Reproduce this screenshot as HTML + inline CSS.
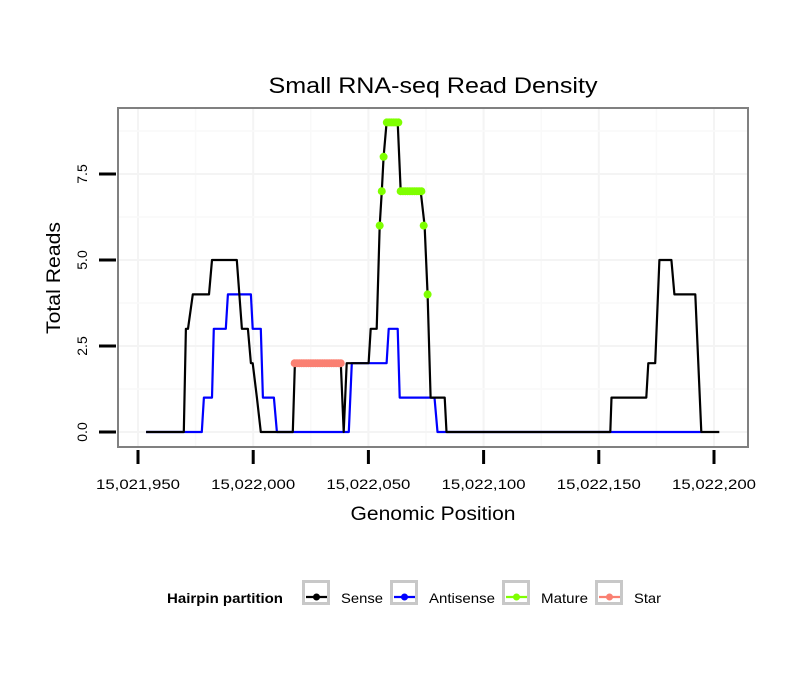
<!DOCTYPE html>
<html><head><meta charset="utf-8"><style>
body{margin:0;background:#fff;}
svg{display:block;font-family:"Liberation Sans",sans-serif;}
</style></head><body>
<svg id="chart" width="810" height="690">
<text x="433" y="93" font-size="22" text-anchor="middle" textLength="329" lengthAdjust="spacingAndGlyphs">Small RNA-seq Read Density</text>
<rect x="118" y="108" width="630" height="339" fill="#fff"/>
<g id="grid"></g>
<g id="series"></g>
<rect x="118" y="108" width="630" height="339" fill="none" stroke="#808080" stroke-width="2"/>
<g id="axes"></g>
<text x="433" y="520" font-size="19" text-anchor="middle" textLength="165" lengthAdjust="spacingAndGlyphs">Genomic Position</text>
<text transform="translate(60,278) rotate(-90)" font-size="19" text-anchor="middle" textLength="112" lengthAdjust="spacingAndGlyphs">Total Reads</text>
<g>
<text x="167" y="603" font-size="14" font-weight="bold" textLength="116" lengthAdjust="spacingAndGlyphs">Hairpin partition</text>
<g id="legend"></g>
</g>
</svg>
<script>
const xTicks=[15021950,15022000,15022050,15022100,15022150,15022200];
const xTickLabels=["15,021,950","15,022,000","15,022,050","15,022,100","15,022,150","15,022,200"];
const yTicks=[0,2.5,5,7.5];
const yTickLabels=["0.0","2.5","5.0","7.5"];
const base=15021950;
const senseOffsets=[3.5,19.9,20.8,21.7,23.8,30.8,32.1,42.9,45.1,47.7,49.0,49.8,51.6,53.3,67.2,68.1,88.0,89.3,90.6,100.1,101.0,103.6,104.9,105.8,106.6,107.9,112.7,114.0,122.7,124.4,125.7,127.0,133.1,133.9,205.0,205.5,220.6,221.5,224.5,226.3,231.5,232.8,241.9,244.5,252.3];
const senseValues=[0,0,3,3,4,4,5,5,3,3,2,2,1,0,0,2,2,0,2,2,3,3,6,7,8,9,9,7,7,6,4,1,1,0,0,1,1,2,2,5,5,4,4,0,0];
const antiOffsets=[3.5,27.7,28.6,32.1,32.9,38.1,39.0,49.0,49.8,53.3,54.2,59.0,60.3,91.5,92.8,107.9,108.8,112.7,113.6,128.7,130.0,244.5];
const antiValues=[0,0,1,1,3,3,4,4,3,3,1,1,0,0,2,2,3,3,1,1,0,0];
const matureOffsets=[104.9,105.8,106.6,108,109,110,111,112,113,114,115,116,117,118,119,120,121,122,123,124,125.7];
const matureValues=[6,7,8,9,9,9,9,9,9,7,7,7,7,7,7,7,7,7,7,6,4];
const starOffsets=[68,69,70,71,72,73,74,75,76,77,78,79,80,81,82,83,84,85,86,87,88];
const starValues=[2,2,2,2,2,2,2,2,2,2,2,2,2,2,2,2,2,2,2,2,2];
const legendLabels=["Sense","Antisense","Mature","Star"];
const colors=["#000000","#0000ff","#7fff00","#fa8072"];

const NS="http://www.w3.org/2000/svg";
const X=p=>138+(p-15021950)*(714-138)/250;
const Y=v=>432-v*(432-174)/7.5;
function mk(tag,attrs,parent){const e=document.createElementNS(NS,tag);for(const k in attrs)e.setAttribute(k,attrs[k]);parent.appendChild(e);return e;}
const grid=document.getElementById('grid'),axes=document.getElementById('axes'),ser=document.getElementById('series');
for(let i=-0.5;i<=5.5;i+=0.5){const x=X(base+i*50);if(x<119||x>747)continue;
 const l=mk('line',{x1:x,x2:x,y1:109,y2:446,stroke:i%1===0?'#f4f4f4':'#f9f9f9','stroke-width':i%1===0?2:1.5},grid);
 }
for(let v=0;v<=10;v+=1.25){const y=Y(v);if(y<109||y>446)continue;
 const l=mk('line',{x1:119,x2:747,y1:y,y2:y,stroke:(v%2.5===0)?'#f4f4f4':'#f9f9f9','stroke-width':(v%2.5===0)?2:1.5},grid);
 }
xTicks.forEach((t,i)=>{const x=X(t);
 const l=mk('line',{x1:x,x2:x,y1:450,y2:464,stroke:'#000','stroke-width':3},axes);
 
 const tx=mk('text',{x:x,y:489,'font-size':14,'text-anchor':'middle',textLength:84,lengthAdjust:'spacingAndGlyphs'},axes);tx.textContent=xTickLabels[i];
 });
yTicks.forEach((t,i)=>{const y=Y(t);
 const l=mk('line',{x1:99,x2:116,y1:y,y2:y,stroke:'#000','stroke-width':3},axes);
 
 const tx=mk('text',{transform:`translate(87,${y}) rotate(-90)`,'font-size':14,'text-anchor':'middle'},axes);tx.textContent=yTickLabels[i];
 });
function line(offs,vals,color,name){const d=offs.map((o,i)=>`${i?'L':'M'}${X(base+o).toFixed(1)},${Y(vals[i]).toFixed(1)}`).join('');
 const p=mk('path',{d:d,fill:'none',stroke:color,'stroke-width':2.2,'stroke-linejoin':'round'},ser);
 }
function pts(offs,vals,color,name){offs.forEach((o,i)=>{const c=mk('circle',{cx:X(base+o),cy:Y(vals[i]),r:4,fill:color},ser);
 });}
line(antiOffsets,antiValues,colors[1],'antisense-line');
line(senseOffsets,senseValues,colors[0],'sense-line');
pts(matureOffsets,matureValues,colors[2],'mature-point');
pts(starOffsets,starValues,colors[3],'star-point');
const lg=document.getElementById('legend');const bx=[302,390,502,595];const tl=[42,66,47,27];
legendLabels.forEach((lab,i)=>{const x=bx[i];
 const g=mk('g',{},lg);
 mk('rect',{x:x+1.5,y:581.5,width:25,height:22,fill:'#fff',stroke:'#c8c8c8','stroke-width':3},g);
 mk('line',{x1:x+4,x2:x+25,y1:597,y2:597,stroke:colors[i],'stroke-width':2.2},g);
 mk('circle',{cx:x+14.5,cy:597,r:3.5,fill:colors[i]},g);
 const t=mk('text',{x:x+39,y:603,'font-size':14,textLength:tl[i],lengthAdjust:'spacingAndGlyphs'},g);t.textContent=lab;});
</script>
</body></html>
